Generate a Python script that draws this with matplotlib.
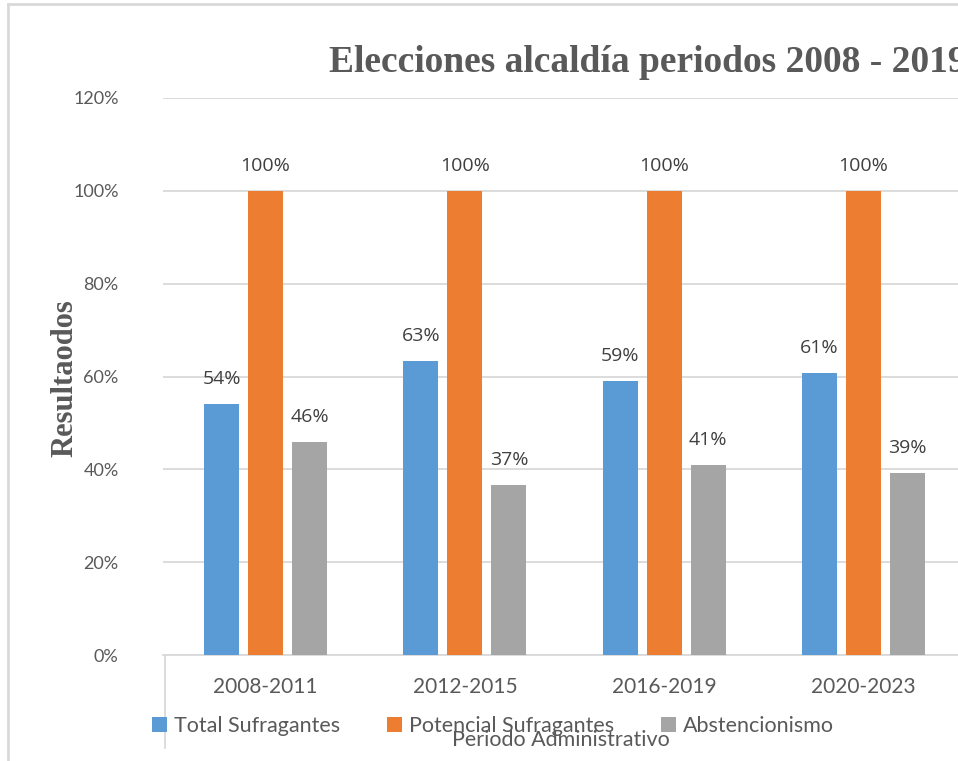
import matplotlib

matplotlib.use("Agg")
import matplotlib.pyplot as plt
import numpy as np
from matplotlib.lines import Line2D
from matplotlib.ticker import PercentFormatter

periods = ["2008-2011", "2012-2015", "2016-2019", "2020-2023"]
series = ["Total Sufragantes", "Potencial Sufragantes", "Abstencionismo"]
total = [0.541, 0.633, 0.590, 0.608]
potencial = [1.0, 1.0, 1.0, 1.0]
abstencion = [0.459, 0.367, 0.410, 0.392]
colors = ["#5B9BD5", "#ED7D31", "#A5A5A5"]

GRID = "#D9D9D9"
TXT = "#595959"
W, H = 958, 761


def main() -> int:
    fig = plt.figure(figsize=(W / 100, H / 100), dpi=100)
    ax = fig.add_axes([163 / W, 1 - 655 / H, 797 / W, 557 / H])

    x = np.arange(len(periods))
    step, width = 0.221, 0.176
    handles = []
    for i, (vals, col) in enumerate(zip([total, potencial, abstencion], colors)):
        bars = ax.bar(x + (i - 1) * step, vals, width, color=col, zorder=3)
        handles.append(bars)
        for b, v in zip(bars, vals):
            ax.annotate(f"{v * 100:.0f}%", (b.get_x() + b.get_width() / 2, v),
                        xytext=(0, 18), textcoords="offset points",
                        ha="center", va="center", fontsize=14,
                        family="Open Sans", color="#404040")

    ax.set_xlim(-0.515, 3.485)
    ax.set_ylim(0, 1.2)
    ax.set_yticks(np.arange(0, 1.21, 0.2))
    ax.yaxis.set_major_formatter(PercentFormatter(1.0, decimals=0))
    ax.set_xticks(x, periods)
    ax.grid(axis="y", color=GRID, lw=1.3, zorder=0)
    for s in ["top", "right", "left"]:
        ax.spines[s].set_visible(False)
    ax.spines["bottom"].set_color(GRID)
    ax.spines["bottom"].set_linewidth(1.3)
    ax.tick_params(length=0)
    ax.tick_params(axis="y", pad=32, labelsize=13, labelcolor=TXT)
    ax.tick_params(axis="x", pad=16, labelsize=15, labelcolor=TXT)
    for lab in ax.get_xticklabels() + ax.get_yticklabels():
        lab.set_family("Lato")

    fig.text(648 / W, 1 - 62 / H, "Elecciones alcaldía periodos 2008 - 2019",
             ha="center", va="center", fontsize=27, fontweight="bold",
             family="Liberation Serif", color=TXT)
    fig.text(65 / W, 1 - 378 / H, "Resultaodos", rotation=90,
             ha="center", va="center", fontsize=22, fontweight="bold",
             family="Liberation Serif", color=TXT)
    fig.text(561 / W, 1 - 740 / H, "Periodo Administrativo",
             ha="center", va="center", fontsize=15.5, family="Lato", color=TXT)

    fig.legend(handles, series, loc="center", bbox_to_anchor=(493 / W, 1 - 726 / H),
               ncol=3, frameon=False, handlelength=0.7, handleheight=0.7,
               handletextpad=0.3, columnspacing=2.2,
               prop={"family": "Lato", "size": 15.5}, labelcolor=TXT)

    # chart-area border and the odd plot-area edge under the baseline
    fig.add_artist(Line2D([8 / W, 8 / W], [0, 1 - 4 / H], color=GRID, lw=2))
    fig.add_artist(Line2D([8 / W, 1], [1 - 4 / H, 1 - 4 / H], color=GRID, lw=2))
    fig.add_artist(Line2D([165 / W, 165 / W], [1 - 655 / H, 1 - 748 / H],
                          color=GRID, lw=1.3))

    fig.savefig("out.png", dpi=100)
    plt.close(fig)
    return 0


if __name__ == "__main__":
    raise SystemExit(main())
